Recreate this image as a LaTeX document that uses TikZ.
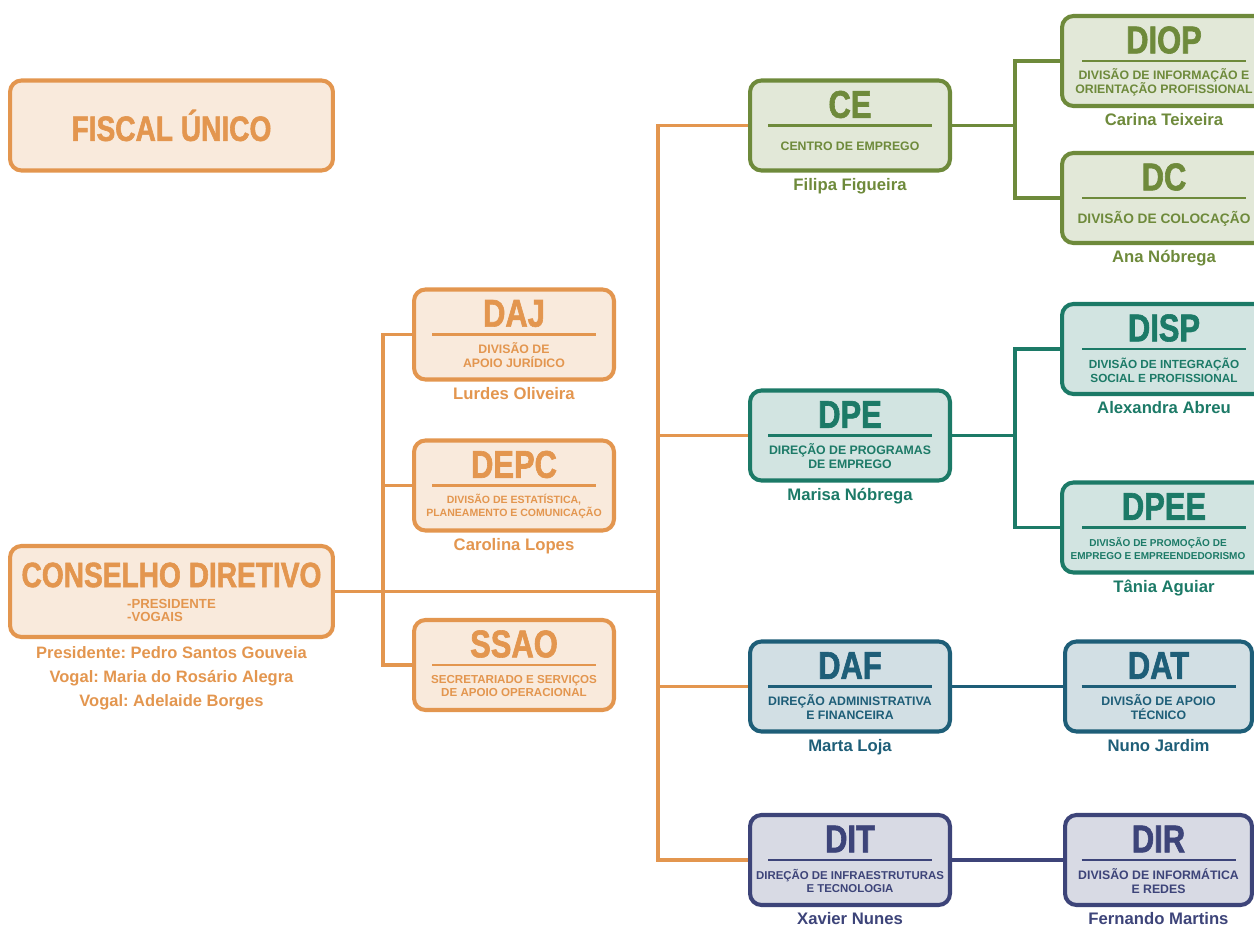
\documentclass[tikz,border=0pt]{standalone}
\usepackage{fontspec}
\setmainfont{Liberation Sans}
\newfontfamily\headfont{Liberation Sans}[FakeStretch=0.8, FakeBold=1.6]
\usetikzlibrary{positioning,backgrounds}
\frenchspacing

\definecolor{orgOrange}{HTML}{E3964F}
\definecolor{orgGreen}{HTML}{6E8A3B}
\definecolor{orgTeal}{HTML}{1C7A67}
\definecolor{orgBlue}{HTML}{1E5E78}
\definecolor{orgNavy}{HTML}{3D4479}

\tikzset{
	box/.style={draw=#1, fill=#1!20, line width=2.3pt, rounded corners=6.5pt,
		minimum width=4cm, minimum height=1.8cm},
	head/.style={text=#1, font=\headfont\bfseries\fontsize{22}{22}\selectfont, inner sep=0pt},
	sub/.style={text=#1, font=\bfseries\fontsize{7}{8}\selectfont, align=center, inner sep=0pt},
	who/.style={text=#1, font=\bfseries\fontsize{9.5}{11}\selectfont, inner sep=1pt},
	bar/.style={draw=#1, line width=1.2pt},
	link/.style={draw=#1, line width=2.2pt}
}

\begin{document}
\begin{tikzpicture}[x=0.02cm, y=-0.02cm]
	\useasboundingbox (0,0) rectangle (1254,929);
	\clip (0,0) rectangle (1254,929);
	% top of the chart
	\node [box=orgOrange, minimum width=6.46cm] (FU) at (171.5,125.5) {};
	\node [head=orgOrange, font=\headfont\bfseries\fontsize{20}{20}\selectfont] (FUt) at (FU.center) {FISCAL ÚNICO};
	\node [box=orgOrange, minimum width=6.46cm, minimum height=1.82cm] (CD) at (171.5,591.5) {};
	\node [head=orgOrange, font=\headfont\bfseries\fontsize{20}{20}\selectfont] (CDt) at ([yshift=0.33cm]CD.center) {CONSELHO DIRETIVO};
	\node [sub=orgOrange, align=left, font=\bfseries\fontsize{7.5}{7.4}\selectfont] (CDs) at ([yshift=-0.38cm]CD.center) {-PRESIDENTE\\-VOGAIS};
	\node [who=orgOrange, below=3pt of CD, align=center, font=\bfseries\fontsize{9.4}{13.6}\selectfont] (CDn)
		{Presidente: Pedro Santos Gouveia\\Vogal: Maria do Rosário Alegra\\Vogal: Adelaide Borges};

	% support units
	\node [box=orgOrange] (DAJ) at (514,334.5) {};
	\node [head=orgOrange] (DAJt) at ([yshift=0.42cm]DAJ.center) {DAJ};
	\draw [bar=orgOrange] ([xshift=-1.64cm]DAJ.center) -- ([xshift=1.64cm]DAJ.center);
	\node [sub=orgOrange] (DAJs) at ([yshift=-0.42cm]DAJ.center) {DIVISÃO DE\\APOIO JURÍDICO};
	\node [who=orgOrange, below=2pt of DAJ] (DAJn) {Lurdes Oliveira};

	\node [box=orgOrange] (DEPC) at (514,485.5) {};
	\node [head=orgOrange] (DEPCt) at ([yshift=0.42cm]DEPC.center) {DEPC};
	\draw [bar=orgOrange] ([xshift=-1.64cm]DEPC.center) -- ([xshift=1.64cm]DEPC.center);
	\node [sub=orgOrange, font=\bfseries\fontsize{6}{7.4}\selectfont] (DEPCs) at ([yshift=-0.42cm]DEPC.center) {DIVISÃO DE ESTATÍSTICA,\\PLANEAMENTO E COMUNICAÇÃO};
	\node [who=orgOrange, below=2pt of DEPC] (DEPCn) {Carolina Lopes};

	\node [box=orgOrange] (SSAO) at (514,665) {};
	\node [head=orgOrange] (SSAOt) at ([yshift=0.42cm]SSAO.center) {SSAO};
	\draw [bar=orgOrange] ([xshift=-1.64cm]SSAO.center) -- ([xshift=1.64cm]SSAO.center);
	\node [sub=orgOrange, font=\bfseries\fontsize{6.6}{7.8}\selectfont] (SSAOs) at ([yshift=-0.42cm]SSAO.center) {SECRETARIADO E SERVIÇOS\\DE APOIO OPERACIONAL};

	% directions
	\node [box=orgGreen] (CE) at (850,125.5) {};
	\node [head=orgGreen] (CEt) at ([yshift=0.42cm]CE.center) {CE};
	\draw [bar=orgGreen] ([xshift=-1.64cm]CE.center) -- ([xshift=1.64cm]CE.center);
	\node [sub=orgGreen] (CEs) at ([yshift=-0.42cm]CE.center) {CENTRO DE EMPREGO};
	\node [who=orgGreen, below=2pt of CE] (CEn) {Filipa Figueira};

	\node [box=orgTeal] (DPE) at (850,435.5) {};
	\node [head=orgTeal] (DPEt) at ([yshift=0.42cm]DPE.center) {DPE};
	\draw [bar=orgTeal] ([xshift=-1.64cm]DPE.center) -- ([xshift=1.64cm]DPE.center);
	\node [sub=orgTeal] (DPEs) at ([yshift=-0.42cm]DPE.center) {DIREÇÃO DE PROGRAMAS\\DE EMPREGO};
	\node [who=orgTeal, below=2pt of DPE] (DPEn) {Marisa Nóbrega};

	\node [box=orgBlue] (DAF) at (850,686.5) {};
	\node [head=orgBlue] (DAFt) at ([yshift=0.42cm]DAF.center) {DAF};
	\draw [bar=orgBlue] ([xshift=-1.64cm]DAF.center) -- ([xshift=1.64cm]DAF.center);
	\node [sub=orgBlue] (DAFs) at ([yshift=-0.42cm]DAF.center) {DIREÇÃO ADMINISTRATIVA\\E FINANCEIRA};
	\node [who=orgBlue, below=2pt of DAF] (DAFn) {Marta Loja};

	\node [box=orgNavy] (DIT) at (850,860) {};
	\node [head=orgNavy] (DITt) at ([yshift=0.42cm]DIT.center) {DIT};
	\draw [bar=orgNavy] ([xshift=-1.64cm]DIT.center) -- ([xshift=1.64cm]DIT.center);
	\node [sub=orgNavy, font=\bfseries\fontsize{6.5}{7.8}\selectfont] (DITs) at ([yshift=-0.42cm]DIT.center) {DIREÇÃO DE INFRAESTRUTURAS\\E TECNOLOGIA};
	\node [who=orgNavy, below=2pt of DIT] (DITn) {Xavier Nunes};

	% divisions
	\node [box=orgGreen, minimum width=4.08cm] (DIOP) at (1164,61) {};
	\node [head=orgGreen] (DIOPt) at ([yshift=0.42cm]DIOP.center) {DIOP};
	\draw [bar=orgGreen] ([xshift=-1.64cm]DIOP.center) -- ([xshift=1.64cm]DIOP.center);
	\node [sub=orgGreen] (DIOPs) at ([yshift=-0.42cm]DIOP.center) {DIVISÃO DE INFORMAÇÃO E\\ORIENTAÇÃO PROFISSIONAL};
	\node [who=orgGreen, below=2pt of DIOP] (DIOPn) {Carina Teixeira};

	\node [box=orgGreen, minimum width=4.08cm] (DC) at (1164,198) {};
	\node [head=orgGreen] (DCt) at ([yshift=0.42cm]DC.center) {DC};
	\draw [bar=orgGreen] ([xshift=-1.64cm]DC.center) -- ([xshift=1.64cm]DC.center);
	\node [sub=orgGreen, font=\bfseries\fontsize{7.8}{8.5}\selectfont] (DCs) at ([yshift=-0.42cm]DC.center) {DIVISÃO DE COLOCAÇÃO};
	\node [who=orgGreen, below=2pt of DC] (DCn) {Ana Nóbrega};

	\node [box=orgTeal, minimum width=4.08cm] (DISP) at (1164,349) {};
	\node [head=orgTeal] (DISPt) at ([yshift=0.42cm]DISP.center) {DISP};
	\draw [bar=orgTeal] ([xshift=-1.64cm]DISP.center) -- ([xshift=1.64cm]DISP.center);
	\node [sub=orgTeal, font=\bfseries\fontsize{6.7}{8}\selectfont] (DISPs) at ([yshift=-0.42cm]DISP.center) {DIVISÃO DE INTEGRAÇÃO\\SOCIAL E PROFISSIONAL};
	\node [who=orgTeal, below=2pt of DISP] (DISPn) {Alexandra Abreu};

	\node [box=orgTeal, minimum width=4.08cm] (DPEE) at (1164,527.5) {};
	\node [head=orgTeal] (DPEEt) at ([yshift=0.42cm]DPEE.center) {DPEE};
	\draw [bar=orgTeal] ([xshift=-1.64cm]DPEE.center) -- ([xshift=1.64cm]DPEE.center);
	\node [sub=orgTeal, font=\bfseries\fontsize{5.7}{7.8}\selectfont] (DPEEs) at ([xshift=-0.12cm, yshift=-0.42cm]DPEE.center) {DIVISÃO DE PROMOÇÃO DE\\EMPREGO E EMPREENDEDORISMO};
	\node [who=orgTeal, below=2pt of DPEE] (DPEEn) {Tânia Aguiar};

	\node [box=orgBlue, minimum width=3.74cm] (DAT) at (1158.5,686.5) {};
	\node [head=orgBlue] (DATt) at ([yshift=0.42cm]DAT.center) {DAT};
	\draw [bar=orgBlue] ([xshift=-1.54cm]DAT.center) -- ([xshift=1.54cm]DAT.center);
	\node [sub=orgBlue] (DATs) at ([yshift=-0.42cm]DAT.center) {DIVISÃO DE APOIO\\TÉCNICO};
	\node [who=orgBlue, below=2pt of DAT] (DATn) {Nuno Jardim};

	\node [box=orgNavy, minimum width=3.74cm] (DIR) at (1158.5,860) {};
	\node [head=orgNavy] (DIRt) at ([yshift=0.42cm]DIR.center) {DIR};
	\draw [bar=orgNavy] ([xshift=-1.54cm]DIR.center) -- ([xshift=1.54cm]DIR.center);
	\node [sub=orgNavy] (DIRs) at ([yshift=-0.42cm]DIR.center) {DIVISÃO DE INFORMÁTICA\\E REDES};
	\node [who=orgNavy, below=2pt of DIR] (DIRn) {Fernando Martins};

	% connectors
	\begin{scope}[on background layer]
	\coordinate (L) at (383,591.5);
	\coordinate (R) at (658,591.5);
	\coordinate (G) at (1015,125.5);
	\coordinate (T) at (1015,435.5);
	\draw [link=orgOrange] (CD.east) -- (R);
	\draw [link=orgOrange] (DAJ.west) -| (L) |- (SSAO.west);
	\draw [link=orgOrange] (DEPC.west) -- (DEPC.west -| L);
	\draw [link=orgOrange] (CE.west) -| (R) |- (DIT.west);
	\draw [link=orgOrange] (DPE.west) -- (DPE.west -| R);
	\draw [link=orgOrange] (DAF.west) -- (DAF.west -| R);
	\draw [link=orgGreen] (CE.east) -- (G);
	\draw [link=orgGreen] (DIOP.west) -| (G) |- (DC.west);
	\draw [link=orgTeal] (DPE.east) -- (T);
	\draw [link=orgTeal] (DISP.west) -| (T) |- (DPEE.west);
	\draw [link=orgBlue] (DAF.east) -- (DAT.west);
	\draw [link=orgNavy] (DIT.east) -- (DIR.west);
	\end{scope}
\end{tikzpicture}
\end{document}
